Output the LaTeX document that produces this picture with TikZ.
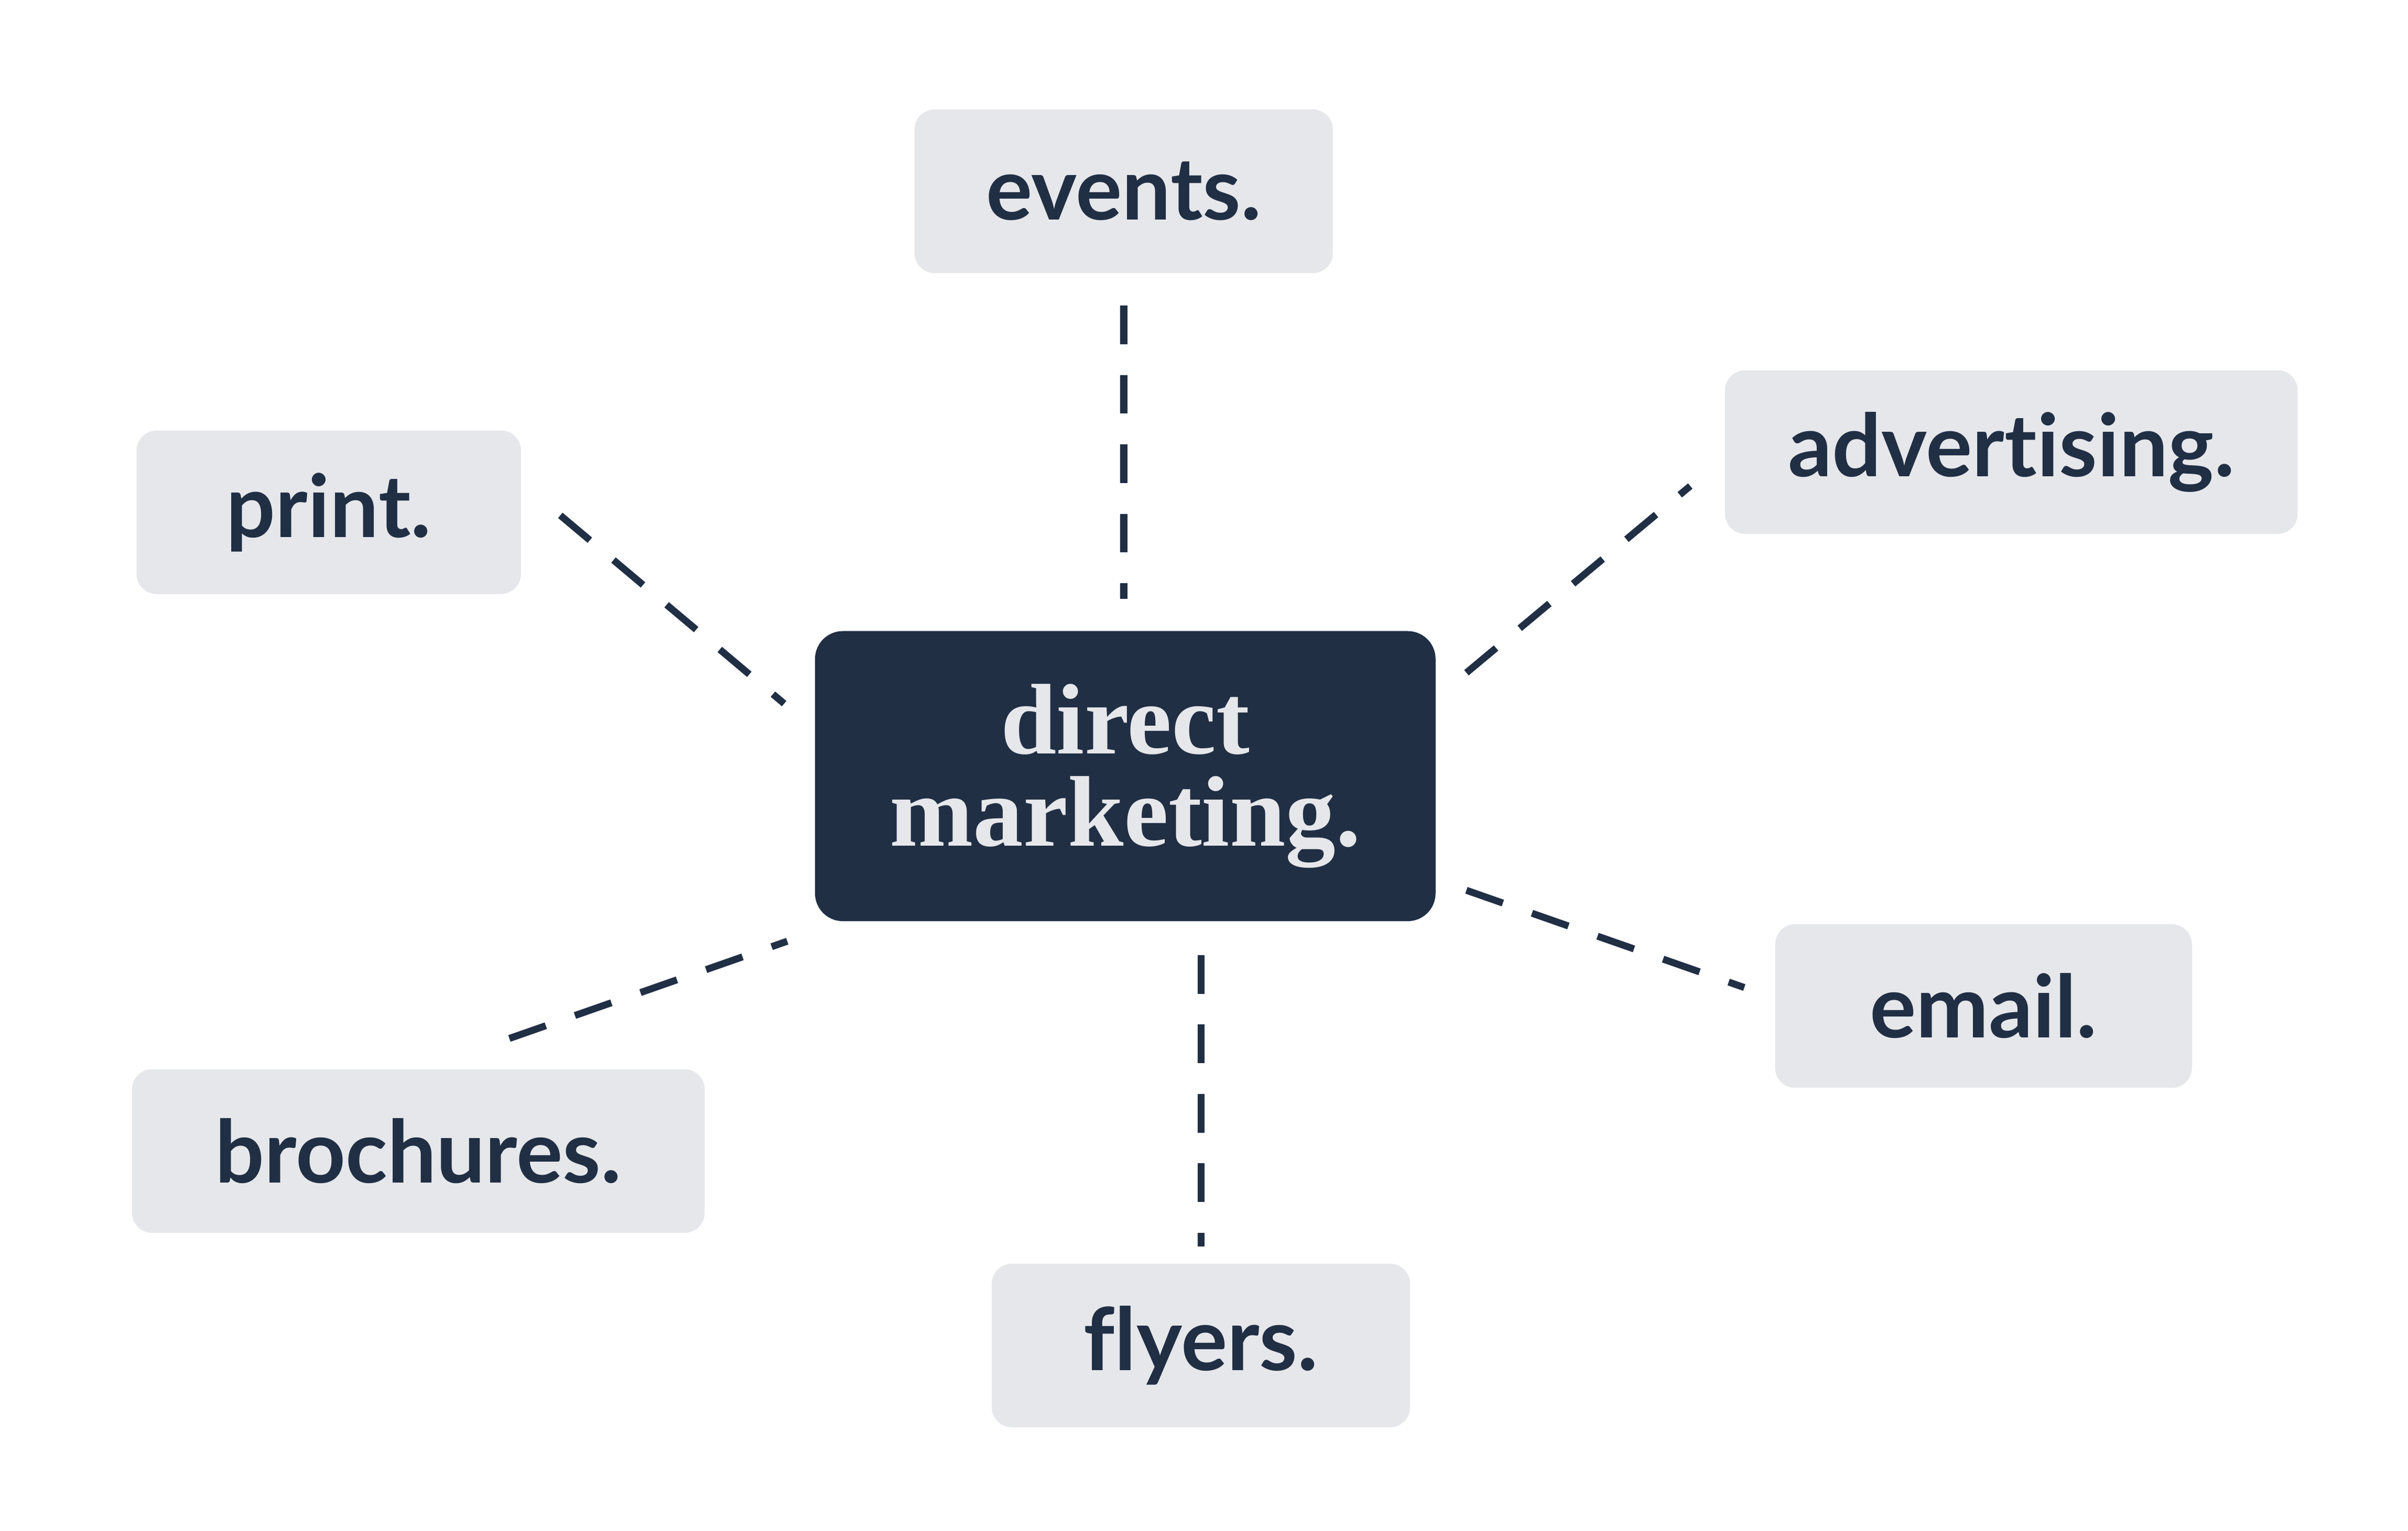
\documentclass[tikz,border=0pt]{standalone}
\usepackage{fontspec}
\setmainfont[Ligatures={NoCommon,NoRare,NoDiscretionary}]{Lato}
\newfontfamily\ctrfont[Ligatures=NoCommon]{Liberation Serif}
\definecolor{navy}{HTML}{212F45}
\definecolor{lgray}{HTML}{E6E7EA}
\begin{document}
\begin{tikzpicture}[x=0.1mm,y=-0.1mm,
  leaf/.style={fill=lgray,rounded corners=1.3mm,inner sep=0pt,text=navy,font=\fontsize{16pt}{19pt}\selectfont\bfseries},
  link/.style={draw=navy,line width=0.45mm,dash pattern=on 2.5mm off 2mm}]
\useasboundingbox (0,0) rectangle (1560,992);
\fill[white] (0,0) rectangle (1560,992);
\node[leaf,minimum width=27.1mm,minimum height=10.6mm] (events) at (728,124) {events.};
\node[leaf,minimum width=37.1mm,minimum height=10.6mm] (adv) at (1303,293) {advertising.};
\node[leaf,minimum width=24.9mm,minimum height=10.6mm] (print) at (213,332) {print.};
\node[leaf,minimum width=27mm,minimum height=10.6mm] (email) at (1285,652) {email.};
\node[leaf,minimum width=37.1mm,minimum height=10.6mm] (broch) at (271,746) {brochures.};
\node[leaf,minimum width=27.1mm,minimum height=10.6mm] (flyers) at (778,872) {flyers.};
\node[fill=navy,rounded corners=1.8mm,minimum width=40.2mm,minimum height=18.8mm,text=lgray,align=center,
  font=\ctrfont\fontsize{18.5pt}{17pt}\selectfont\bfseries] (dm) at (729,503) {direct\\marketing.};
\coordinate (e1) at (728,198); \coordinate (e2) at (728,388);
\coordinate (a1) at (950,436); \coordinate (a2) at (1095,315);
\coordinate (p1) at (363,334); \coordinate (p2) at (508,456);
\coordinate (b1) at (330,673); \coordinate (b2) at (510,610);
\coordinate (m1) at (950,577); \coordinate (m2) at (1130,640);
\coordinate (f1) at (778,619); \coordinate (f2) at (778,808);
\draw[link] (e1) -- (e2);
\draw[link] (a1) -- (a2);
\draw[link] (p1) -- (p2);
\draw[link] (b1) -- (b2);
\draw[link] (m1) -- (m2);
\draw[link] (f1) -- (f2);
\end{tikzpicture}
\end{document}
